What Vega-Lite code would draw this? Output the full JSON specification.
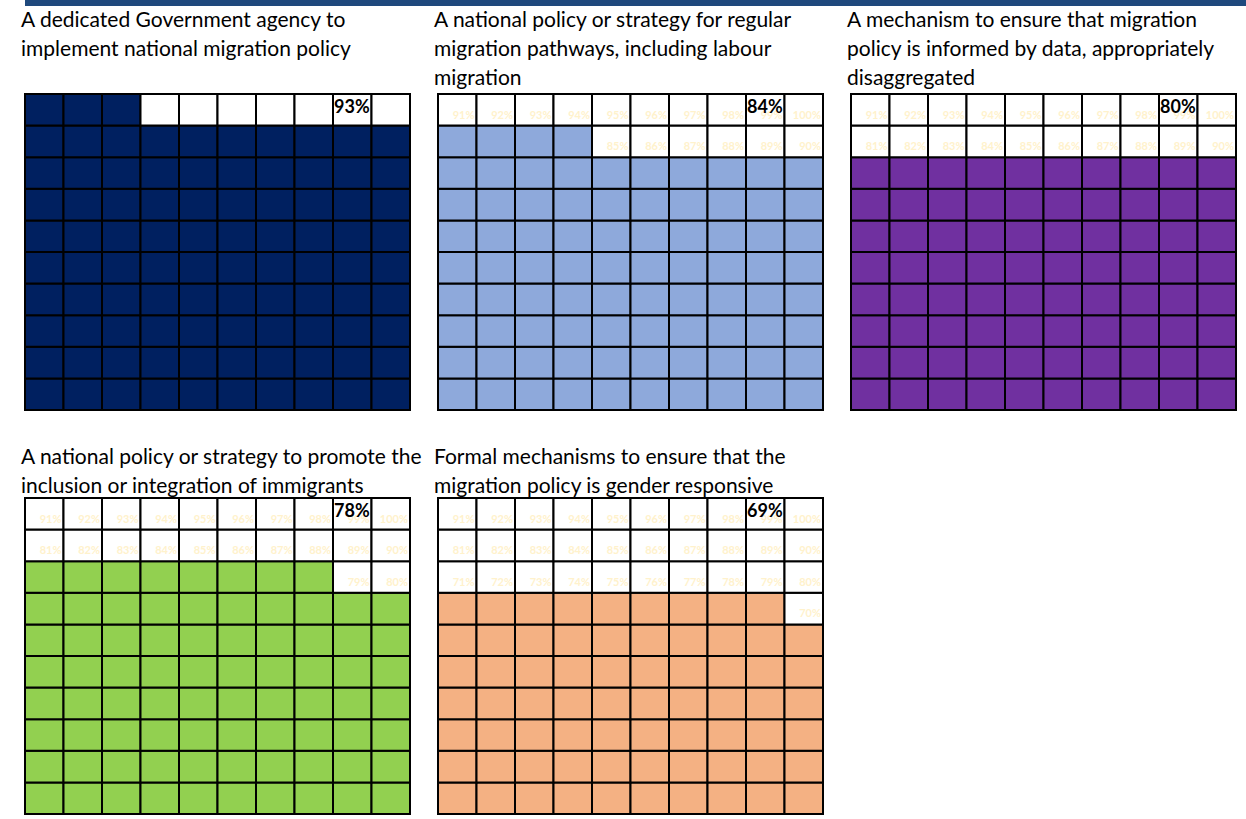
{
"$schema": "https://vega.github.io/schema/vega-lite/v6.json",
"padding": 0,
"background": "white",
"config": {"view": {"stroke": null}, "font": "Lato",
 "title": {"anchor": "start", "frame": "group", "fontSize": 21, "font": "Lato", "fontWeight": "normal", "color": "black", "lineHeight": 29, "offset": 4, "dx": -4, "baseline": "bottom"}},
"datasets": {
"big": [{"p":1,"r":10,"c":9,"t":"93%"},{"p":2,"r":10,"c":9,"t":"84%"},{"p":3,"r":10,"c":9,"t":"80%"},{"p":4,"r":10,"c":9,"t":"78%"},{"p":5,"r":10,"c":9,"t":"69%"}],
"cells": [
{"p":1,"r":1,"c":1,"f":1},{"p":1,"r":1,"c":2,"f":1},{"p":1,"r":1,"c":3,"f":1},{"p":1,"r":1,"c":4,"f":1},{"p":1,"r":1,"c":5,"f":1},{"p":1,"r":1,"c":6,"f":1},{"p":1,"r":1,"c":7,"f":1},{"p":1,"r":1,"c":8,"f":1},{"p":1,"r":1,"c":9,"f":1},{"p":1,"r":1,"c":10,"f":1},
{"p":1,"r":2,"c":1,"f":1},{"p":1,"r":2,"c":2,"f":1},{"p":1,"r":2,"c":3,"f":1},{"p":1,"r":2,"c":4,"f":1},{"p":1,"r":2,"c":5,"f":1},{"p":1,"r":2,"c":6,"f":1},{"p":1,"r":2,"c":7,"f":1},{"p":1,"r":2,"c":8,"f":1},{"p":1,"r":2,"c":9,"f":1},{"p":1,"r":2,"c":10,"f":1},
{"p":1,"r":3,"c":1,"f":1},{"p":1,"r":3,"c":2,"f":1},{"p":1,"r":3,"c":3,"f":1},{"p":1,"r":3,"c":4,"f":1},{"p":1,"r":3,"c":5,"f":1},{"p":1,"r":3,"c":6,"f":1},{"p":1,"r":3,"c":7,"f":1},{"p":1,"r":3,"c":8,"f":1},{"p":1,"r":3,"c":9,"f":1},{"p":1,"r":3,"c":10,"f":1},
{"p":1,"r":4,"c":1,"f":1},{"p":1,"r":4,"c":2,"f":1},{"p":1,"r":4,"c":3,"f":1},{"p":1,"r":4,"c":4,"f":1},{"p":1,"r":4,"c":5,"f":1},{"p":1,"r":4,"c":6,"f":1},{"p":1,"r":4,"c":7,"f":1},{"p":1,"r":4,"c":8,"f":1},{"p":1,"r":4,"c":9,"f":1},{"p":1,"r":4,"c":10,"f":1},
{"p":1,"r":5,"c":1,"f":1},{"p":1,"r":5,"c":2,"f":1},{"p":1,"r":5,"c":3,"f":1},{"p":1,"r":5,"c":4,"f":1},{"p":1,"r":5,"c":5,"f":1},{"p":1,"r":5,"c":6,"f":1},{"p":1,"r":5,"c":7,"f":1},{"p":1,"r":5,"c":8,"f":1},{"p":1,"r":5,"c":9,"f":1},{"p":1,"r":5,"c":10,"f":1},
{"p":1,"r":6,"c":1,"f":1},{"p":1,"r":6,"c":2,"f":1},{"p":1,"r":6,"c":3,"f":1},{"p":1,"r":6,"c":4,"f":1},{"p":1,"r":6,"c":5,"f":1},{"p":1,"r":6,"c":6,"f":1},{"p":1,"r":6,"c":7,"f":1},{"p":1,"r":6,"c":8,"f":1},{"p":1,"r":6,"c":9,"f":1},{"p":1,"r":6,"c":10,"f":1},
{"p":1,"r":7,"c":1,"f":1},{"p":1,"r":7,"c":2,"f":1},{"p":1,"r":7,"c":3,"f":1},{"p":1,"r":7,"c":4,"f":1},{"p":1,"r":7,"c":5,"f":1},{"p":1,"r":7,"c":6,"f":1},{"p":1,"r":7,"c":7,"f":1},{"p":1,"r":7,"c":8,"f":1},{"p":1,"r":7,"c":9,"f":1},{"p":1,"r":7,"c":10,"f":1},
{"p":1,"r":8,"c":1,"f":1},{"p":1,"r":8,"c":2,"f":1},{"p":1,"r":8,"c":3,"f":1},{"p":1,"r":8,"c":4,"f":1},{"p":1,"r":8,"c":5,"f":1},{"p":1,"r":8,"c":6,"f":1},{"p":1,"r":8,"c":7,"f":1},{"p":1,"r":8,"c":8,"f":1},{"p":1,"r":8,"c":9,"f":1},{"p":1,"r":8,"c":10,"f":1},
{"p":1,"r":9,"c":1,"f":1},{"p":1,"r":9,"c":2,"f":1},{"p":1,"r":9,"c":3,"f":1},{"p":1,"r":9,"c":4,"f":1},{"p":1,"r":9,"c":5,"f":1},{"p":1,"r":9,"c":6,"f":1},{"p":1,"r":9,"c":7,"f":1},{"p":1,"r":9,"c":8,"f":1},{"p":1,"r":9,"c":9,"f":1},{"p":1,"r":9,"c":10,"f":1},
{"p":1,"r":10,"c":1,"f":1},{"p":1,"r":10,"c":2,"f":1},{"p":1,"r":10,"c":3,"f":1},{"p":1,"r":10,"c":4,"f":0},{"p":1,"r":10,"c":5,"f":0},{"p":1,"r":10,"c":6,"f":0},{"p":1,"r":10,"c":7,"f":0},{"p":1,"r":10,"c":8,"f":0},{"p":1,"r":10,"c":9,"f":0},{"p":1,"r":10,"c":10,"f":0},
{"p":2,"r":1,"c":1,"f":1},{"p":2,"r":1,"c":2,"f":1},{"p":2,"r":1,"c":3,"f":1},{"p":2,"r":1,"c":4,"f":1},{"p":2,"r":1,"c":5,"f":1},{"p":2,"r":1,"c":6,"f":1},{"p":2,"r":1,"c":7,"f":1},{"p":2,"r":1,"c":8,"f":1},{"p":2,"r":1,"c":9,"f":1},{"p":2,"r":1,"c":10,"f":1},
{"p":2,"r":2,"c":1,"f":1},{"p":2,"r":2,"c":2,"f":1},{"p":2,"r":2,"c":3,"f":1},{"p":2,"r":2,"c":4,"f":1},{"p":2,"r":2,"c":5,"f":1},{"p":2,"r":2,"c":6,"f":1},{"p":2,"r":2,"c":7,"f":1},{"p":2,"r":2,"c":8,"f":1},{"p":2,"r":2,"c":9,"f":1},{"p":2,"r":2,"c":10,"f":1},
{"p":2,"r":3,"c":1,"f":1},{"p":2,"r":3,"c":2,"f":1},{"p":2,"r":3,"c":3,"f":1},{"p":2,"r":3,"c":4,"f":1},{"p":2,"r":3,"c":5,"f":1},{"p":2,"r":3,"c":6,"f":1},{"p":2,"r":3,"c":7,"f":1},{"p":2,"r":3,"c":8,"f":1},{"p":2,"r":3,"c":9,"f":1},{"p":2,"r":3,"c":10,"f":1},
{"p":2,"r":4,"c":1,"f":1},{"p":2,"r":4,"c":2,"f":1},{"p":2,"r":4,"c":3,"f":1},{"p":2,"r":4,"c":4,"f":1},{"p":2,"r":4,"c":5,"f":1},{"p":2,"r":4,"c":6,"f":1},{"p":2,"r":4,"c":7,"f":1},{"p":2,"r":4,"c":8,"f":1},{"p":2,"r":4,"c":9,"f":1},{"p":2,"r":4,"c":10,"f":1},
{"p":2,"r":5,"c":1,"f":1},{"p":2,"r":5,"c":2,"f":1},{"p":2,"r":5,"c":3,"f":1},{"p":2,"r":5,"c":4,"f":1},{"p":2,"r":5,"c":5,"f":1},{"p":2,"r":5,"c":6,"f":1},{"p":2,"r":5,"c":7,"f":1},{"p":2,"r":5,"c":8,"f":1},{"p":2,"r":5,"c":9,"f":1},{"p":2,"r":5,"c":10,"f":1},
{"p":2,"r":6,"c":1,"f":1},{"p":2,"r":6,"c":2,"f":1},{"p":2,"r":6,"c":3,"f":1},{"p":2,"r":6,"c":4,"f":1},{"p":2,"r":6,"c":5,"f":1},{"p":2,"r":6,"c":6,"f":1},{"p":2,"r":6,"c":7,"f":1},{"p":2,"r":6,"c":8,"f":1},{"p":2,"r":6,"c":9,"f":1},{"p":2,"r":6,"c":10,"f":1},
{"p":2,"r":7,"c":1,"f":1},{"p":2,"r":7,"c":2,"f":1},{"p":2,"r":7,"c":3,"f":1},{"p":2,"r":7,"c":4,"f":1},{"p":2,"r":7,"c":5,"f":1},{"p":2,"r":7,"c":6,"f":1},{"p":2,"r":7,"c":7,"f":1},{"p":2,"r":7,"c":8,"f":1},{"p":2,"r":7,"c":9,"f":1},{"p":2,"r":7,"c":10,"f":1},
{"p":2,"r":8,"c":1,"f":1},{"p":2,"r":8,"c":2,"f":1},{"p":2,"r":8,"c":3,"f":1},{"p":2,"r":8,"c":4,"f":1},{"p":2,"r":8,"c":5,"f":1},{"p":2,"r":8,"c":6,"f":1},{"p":2,"r":8,"c":7,"f":1},{"p":2,"r":8,"c":8,"f":1},{"p":2,"r":8,"c":9,"f":1},{"p":2,"r":8,"c":10,"f":1},
{"p":2,"r":9,"c":1,"f":1},{"p":2,"r":9,"c":2,"f":1},{"p":2,"r":9,"c":3,"f":1},{"p":2,"r":9,"c":4,"f":1},{"p":2,"r":9,"c":5,"f":0,"l":"85%"},{"p":2,"r":9,"c":6,"f":0,"l":"86%"},{"p":2,"r":9,"c":7,"f":0,"l":"87%"},{"p":2,"r":9,"c":8,"f":0,"l":"88%"},{"p":2,"r":9,"c":9,"f":0,"l":"89%"},{"p":2,"r":9,"c":10,"f":0,"l":"90%"},
{"p":2,"r":10,"c":1,"f":0,"l":"91%"},{"p":2,"r":10,"c":2,"f":0,"l":"92%"},{"p":2,"r":10,"c":3,"f":0,"l":"93%"},{"p":2,"r":10,"c":4,"f":0,"l":"94%"},{"p":2,"r":10,"c":5,"f":0,"l":"95%"},{"p":2,"r":10,"c":6,"f":0,"l":"96%"},{"p":2,"r":10,"c":7,"f":0,"l":"97%"},{"p":2,"r":10,"c":8,"f":0,"l":"98%"},{"p":2,"r":10,"c":9,"f":0,"l":"99%"},{"p":2,"r":10,"c":10,"f":0,"l":"100%"},
{"p":3,"r":1,"c":1,"f":1},{"p":3,"r":1,"c":2,"f":1},{"p":3,"r":1,"c":3,"f":1},{"p":3,"r":1,"c":4,"f":1},{"p":3,"r":1,"c":5,"f":1},{"p":3,"r":1,"c":6,"f":1},{"p":3,"r":1,"c":7,"f":1},{"p":3,"r":1,"c":8,"f":1},{"p":3,"r":1,"c":9,"f":1},{"p":3,"r":1,"c":10,"f":1},
{"p":3,"r":2,"c":1,"f":1},{"p":3,"r":2,"c":2,"f":1},{"p":3,"r":2,"c":3,"f":1},{"p":3,"r":2,"c":4,"f":1},{"p":3,"r":2,"c":5,"f":1},{"p":3,"r":2,"c":6,"f":1},{"p":3,"r":2,"c":7,"f":1},{"p":3,"r":2,"c":8,"f":1},{"p":3,"r":2,"c":9,"f":1},{"p":3,"r":2,"c":10,"f":1},
{"p":3,"r":3,"c":1,"f":1},{"p":3,"r":3,"c":2,"f":1},{"p":3,"r":3,"c":3,"f":1},{"p":3,"r":3,"c":4,"f":1},{"p":3,"r":3,"c":5,"f":1},{"p":3,"r":3,"c":6,"f":1},{"p":3,"r":3,"c":7,"f":1},{"p":3,"r":3,"c":8,"f":1},{"p":3,"r":3,"c":9,"f":1},{"p":3,"r":3,"c":10,"f":1},
{"p":3,"r":4,"c":1,"f":1},{"p":3,"r":4,"c":2,"f":1},{"p":3,"r":4,"c":3,"f":1},{"p":3,"r":4,"c":4,"f":1},{"p":3,"r":4,"c":5,"f":1},{"p":3,"r":4,"c":6,"f":1},{"p":3,"r":4,"c":7,"f":1},{"p":3,"r":4,"c":8,"f":1},{"p":3,"r":4,"c":9,"f":1},{"p":3,"r":4,"c":10,"f":1},
{"p":3,"r":5,"c":1,"f":1},{"p":3,"r":5,"c":2,"f":1},{"p":3,"r":5,"c":3,"f":1},{"p":3,"r":5,"c":4,"f":1},{"p":3,"r":5,"c":5,"f":1},{"p":3,"r":5,"c":6,"f":1},{"p":3,"r":5,"c":7,"f":1},{"p":3,"r":5,"c":8,"f":1},{"p":3,"r":5,"c":9,"f":1},{"p":3,"r":5,"c":10,"f":1},
{"p":3,"r":6,"c":1,"f":1},{"p":3,"r":6,"c":2,"f":1},{"p":3,"r":6,"c":3,"f":1},{"p":3,"r":6,"c":4,"f":1},{"p":3,"r":6,"c":5,"f":1},{"p":3,"r":6,"c":6,"f":1},{"p":3,"r":6,"c":7,"f":1},{"p":3,"r":6,"c":8,"f":1},{"p":3,"r":6,"c":9,"f":1},{"p":3,"r":6,"c":10,"f":1},
{"p":3,"r":7,"c":1,"f":1},{"p":3,"r":7,"c":2,"f":1},{"p":3,"r":7,"c":3,"f":1},{"p":3,"r":7,"c":4,"f":1},{"p":3,"r":7,"c":5,"f":1},{"p":3,"r":7,"c":6,"f":1},{"p":3,"r":7,"c":7,"f":1},{"p":3,"r":7,"c":8,"f":1},{"p":3,"r":7,"c":9,"f":1},{"p":3,"r":7,"c":10,"f":1},
{"p":3,"r":8,"c":1,"f":1},{"p":3,"r":8,"c":2,"f":1},{"p":3,"r":8,"c":3,"f":1},{"p":3,"r":8,"c":4,"f":1},{"p":3,"r":8,"c":5,"f":1},{"p":3,"r":8,"c":6,"f":1},{"p":3,"r":8,"c":7,"f":1},{"p":3,"r":8,"c":8,"f":1},{"p":3,"r":8,"c":9,"f":1},{"p":3,"r":8,"c":10,"f":1},
{"p":3,"r":9,"c":1,"f":0,"l":"81%"},{"p":3,"r":9,"c":2,"f":0,"l":"82%"},{"p":3,"r":9,"c":3,"f":0,"l":"83%"},{"p":3,"r":9,"c":4,"f":0,"l":"84%"},{"p":3,"r":9,"c":5,"f":0,"l":"85%"},{"p":3,"r":9,"c":6,"f":0,"l":"86%"},{"p":3,"r":9,"c":7,"f":0,"l":"87%"},{"p":3,"r":9,"c":8,"f":0,"l":"88%"},{"p":3,"r":9,"c":9,"f":0,"l":"89%"},{"p":3,"r":9,"c":10,"f":0,"l":"90%"},
{"p":3,"r":10,"c":1,"f":0,"l":"91%"},{"p":3,"r":10,"c":2,"f":0,"l":"92%"},{"p":3,"r":10,"c":3,"f":0,"l":"93%"},{"p":3,"r":10,"c":4,"f":0,"l":"94%"},{"p":3,"r":10,"c":5,"f":0,"l":"95%"},{"p":3,"r":10,"c":6,"f":0,"l":"96%"},{"p":3,"r":10,"c":7,"f":0,"l":"97%"},{"p":3,"r":10,"c":8,"f":0,"l":"98%"},{"p":3,"r":10,"c":9,"f":0,"l":"99%"},{"p":3,"r":10,"c":10,"f":0,"l":"100%"},
{"p":4,"r":1,"c":1,"f":1},{"p":4,"r":1,"c":2,"f":1},{"p":4,"r":1,"c":3,"f":1},{"p":4,"r":1,"c":4,"f":1},{"p":4,"r":1,"c":5,"f":1},{"p":4,"r":1,"c":6,"f":1},{"p":4,"r":1,"c":7,"f":1},{"p":4,"r":1,"c":8,"f":1},{"p":4,"r":1,"c":9,"f":1},{"p":4,"r":1,"c":10,"f":1},
{"p":4,"r":2,"c":1,"f":1},{"p":4,"r":2,"c":2,"f":1},{"p":4,"r":2,"c":3,"f":1},{"p":4,"r":2,"c":4,"f":1},{"p":4,"r":2,"c":5,"f":1},{"p":4,"r":2,"c":6,"f":1},{"p":4,"r":2,"c":7,"f":1},{"p":4,"r":2,"c":8,"f":1},{"p":4,"r":2,"c":9,"f":1},{"p":4,"r":2,"c":10,"f":1},
{"p":4,"r":3,"c":1,"f":1},{"p":4,"r":3,"c":2,"f":1},{"p":4,"r":3,"c":3,"f":1},{"p":4,"r":3,"c":4,"f":1},{"p":4,"r":3,"c":5,"f":1},{"p":4,"r":3,"c":6,"f":1},{"p":4,"r":3,"c":7,"f":1},{"p":4,"r":3,"c":8,"f":1},{"p":4,"r":3,"c":9,"f":1},{"p":4,"r":3,"c":10,"f":1},
{"p":4,"r":4,"c":1,"f":1},{"p":4,"r":4,"c":2,"f":1},{"p":4,"r":4,"c":3,"f":1},{"p":4,"r":4,"c":4,"f":1},{"p":4,"r":4,"c":5,"f":1},{"p":4,"r":4,"c":6,"f":1},{"p":4,"r":4,"c":7,"f":1},{"p":4,"r":4,"c":8,"f":1},{"p":4,"r":4,"c":9,"f":1},{"p":4,"r":4,"c":10,"f":1},
{"p":4,"r":5,"c":1,"f":1},{"p":4,"r":5,"c":2,"f":1},{"p":4,"r":5,"c":3,"f":1},{"p":4,"r":5,"c":4,"f":1},{"p":4,"r":5,"c":5,"f":1},{"p":4,"r":5,"c":6,"f":1},{"p":4,"r":5,"c":7,"f":1},{"p":4,"r":5,"c":8,"f":1},{"p":4,"r":5,"c":9,"f":1},{"p":4,"r":5,"c":10,"f":1},
{"p":4,"r":6,"c":1,"f":1},{"p":4,"r":6,"c":2,"f":1},{"p":4,"r":6,"c":3,"f":1},{"p":4,"r":6,"c":4,"f":1},{"p":4,"r":6,"c":5,"f":1},{"p":4,"r":6,"c":6,"f":1},{"p":4,"r":6,"c":7,"f":1},{"p":4,"r":6,"c":8,"f":1},{"p":4,"r":6,"c":9,"f":1},{"p":4,"r":6,"c":10,"f":1},
{"p":4,"r":7,"c":1,"f":1},{"p":4,"r":7,"c":2,"f":1},{"p":4,"r":7,"c":3,"f":1},{"p":4,"r":7,"c":4,"f":1},{"p":4,"r":7,"c":5,"f":1},{"p":4,"r":7,"c":6,"f":1},{"p":4,"r":7,"c":7,"f":1},{"p":4,"r":7,"c":8,"f":1},{"p":4,"r":7,"c":9,"f":1},{"p":4,"r":7,"c":10,"f":1},
{"p":4,"r":8,"c":1,"f":1},{"p":4,"r":8,"c":2,"f":1},{"p":4,"r":8,"c":3,"f":1},{"p":4,"r":8,"c":4,"f":1},{"p":4,"r":8,"c":5,"f":1},{"p":4,"r":8,"c":6,"f":1},{"p":4,"r":8,"c":7,"f":1},{"p":4,"r":8,"c":8,"f":1},{"p":4,"r":8,"c":9,"f":0,"l":"79%"},{"p":4,"r":8,"c":10,"f":0,"l":"80%"},
{"p":4,"r":9,"c":1,"f":0,"l":"81%"},{"p":4,"r":9,"c":2,"f":0,"l":"82%"},{"p":4,"r":9,"c":3,"f":0,"l":"83%"},{"p":4,"r":9,"c":4,"f":0,"l":"84%"},{"p":4,"r":9,"c":5,"f":0,"l":"85%"},{"p":4,"r":9,"c":6,"f":0,"l":"86%"},{"p":4,"r":9,"c":7,"f":0,"l":"87%"},{"p":4,"r":9,"c":8,"f":0,"l":"88%"},{"p":4,"r":9,"c":9,"f":0,"l":"89%"},{"p":4,"r":9,"c":10,"f":0,"l":"90%"},
{"p":4,"r":10,"c":1,"f":0,"l":"91%"},{"p":4,"r":10,"c":2,"f":0,"l":"92%"},{"p":4,"r":10,"c":3,"f":0,"l":"93%"},{"p":4,"r":10,"c":4,"f":0,"l":"94%"},{"p":4,"r":10,"c":5,"f":0,"l":"95%"},{"p":4,"r":10,"c":6,"f":0,"l":"96%"},{"p":4,"r":10,"c":7,"f":0,"l":"97%"},{"p":4,"r":10,"c":8,"f":0,"l":"98%"},{"p":4,"r":10,"c":9,"f":0,"l":"99%"},{"p":4,"r":10,"c":10,"f":0,"l":"100%"},
{"p":5,"r":1,"c":1,"f":1},{"p":5,"r":1,"c":2,"f":1},{"p":5,"r":1,"c":3,"f":1},{"p":5,"r":1,"c":4,"f":1},{"p":5,"r":1,"c":5,"f":1},{"p":5,"r":1,"c":6,"f":1},{"p":5,"r":1,"c":7,"f":1},{"p":5,"r":1,"c":8,"f":1},{"p":5,"r":1,"c":9,"f":1},{"p":5,"r":1,"c":10,"f":1},
{"p":5,"r":2,"c":1,"f":1},{"p":5,"r":2,"c":2,"f":1},{"p":5,"r":2,"c":3,"f":1},{"p":5,"r":2,"c":4,"f":1},{"p":5,"r":2,"c":5,"f":1},{"p":5,"r":2,"c":6,"f":1},{"p":5,"r":2,"c":7,"f":1},{"p":5,"r":2,"c":8,"f":1},{"p":5,"r":2,"c":9,"f":1},{"p":5,"r":2,"c":10,"f":1},
{"p":5,"r":3,"c":1,"f":1},{"p":5,"r":3,"c":2,"f":1},{"p":5,"r":3,"c":3,"f":1},{"p":5,"r":3,"c":4,"f":1},{"p":5,"r":3,"c":5,"f":1},{"p":5,"r":3,"c":6,"f":1},{"p":5,"r":3,"c":7,"f":1},{"p":5,"r":3,"c":8,"f":1},{"p":5,"r":3,"c":9,"f":1},{"p":5,"r":3,"c":10,"f":1},
{"p":5,"r":4,"c":1,"f":1},{"p":5,"r":4,"c":2,"f":1},{"p":5,"r":4,"c":3,"f":1},{"p":5,"r":4,"c":4,"f":1},{"p":5,"r":4,"c":5,"f":1},{"p":5,"r":4,"c":6,"f":1},{"p":5,"r":4,"c":7,"f":1},{"p":5,"r":4,"c":8,"f":1},{"p":5,"r":4,"c":9,"f":1},{"p":5,"r":4,"c":10,"f":1},
{"p":5,"r":5,"c":1,"f":1},{"p":5,"r":5,"c":2,"f":1},{"p":5,"r":5,"c":3,"f":1},{"p":5,"r":5,"c":4,"f":1},{"p":5,"r":5,"c":5,"f":1},{"p":5,"r":5,"c":6,"f":1},{"p":5,"r":5,"c":7,"f":1},{"p":5,"r":5,"c":8,"f":1},{"p":5,"r":5,"c":9,"f":1},{"p":5,"r":5,"c":10,"f":1},
{"p":5,"r":6,"c":1,"f":1},{"p":5,"r":6,"c":2,"f":1},{"p":5,"r":6,"c":3,"f":1},{"p":5,"r":6,"c":4,"f":1},{"p":5,"r":6,"c":5,"f":1},{"p":5,"r":6,"c":6,"f":1},{"p":5,"r":6,"c":7,"f":1},{"p":5,"r":6,"c":8,"f":1},{"p":5,"r":6,"c":9,"f":1},{"p":5,"r":6,"c":10,"f":1},
{"p":5,"r":7,"c":1,"f":1},{"p":5,"r":7,"c":2,"f":1},{"p":5,"r":7,"c":3,"f":1},{"p":5,"r":7,"c":4,"f":1},{"p":5,"r":7,"c":5,"f":1},{"p":5,"r":7,"c":6,"f":1},{"p":5,"r":7,"c":7,"f":1},{"p":5,"r":7,"c":8,"f":1},{"p":5,"r":7,"c":9,"f":1},{"p":5,"r":7,"c":10,"f":0,"l":"70%"},
{"p":5,"r":8,"c":1,"f":0,"l":"71%"},{"p":5,"r":8,"c":2,"f":0,"l":"72%"},{"p":5,"r":8,"c":3,"f":0,"l":"73%"},{"p":5,"r":8,"c":4,"f":0,"l":"74%"},{"p":5,"r":8,"c":5,"f":0,"l":"75%"},{"p":5,"r":8,"c":6,"f":0,"l":"76%"},{"p":5,"r":8,"c":7,"f":0,"l":"77%"},{"p":5,"r":8,"c":8,"f":0,"l":"78%"},{"p":5,"r":8,"c":9,"f":0,"l":"79%"},{"p":5,"r":8,"c":10,"f":0,"l":"80%"},
{"p":5,"r":9,"c":1,"f":0,"l":"81%"},{"p":5,"r":9,"c":2,"f":0,"l":"82%"},{"p":5,"r":9,"c":3,"f":0,"l":"83%"},{"p":5,"r":9,"c":4,"f":0,"l":"84%"},{"p":5,"r":9,"c":5,"f":0,"l":"85%"},{"p":5,"r":9,"c":6,"f":0,"l":"86%"},{"p":5,"r":9,"c":7,"f":0,"l":"87%"},{"p":5,"r":9,"c":8,"f":0,"l":"88%"},{"p":5,"r":9,"c":9,"f":0,"l":"89%"},{"p":5,"r":9,"c":10,"f":0,"l":"90%"},
{"p":5,"r":10,"c":1,"f":0,"l":"91%"},{"p":5,"r":10,"c":2,"f":0,"l":"92%"},{"p":5,"r":10,"c":3,"f":0,"l":"93%"},{"p":5,"r":10,"c":4,"f":0,"l":"94%"},{"p":5,"r":10,"c":5,"f":0,"l":"95%"},{"p":5,"r":10,"c":6,"f":0,"l":"96%"},{"p":5,"r":10,"c":7,"f":0,"l":"97%"},{"p":5,"r":10,"c":8,"f":0,"l":"98%"},{"p":5,"r":10,"c":9,"f":0,"l":"99%"},{"p":5,"r":10,"c":10,"f":0,"l":"100%"}
]},
"spacing": 4,
"vconcat": [
 {"width": 1246, "height": 6, "view": {"fill": "#1F497D", "stroke": null}, "data": {"values": [{"a": 1}]}, "mark": {"type": "text", "fontSize": 1, "baseline": "top", "align": "left"}, "encoding": {"text": {"value": ""}}},
 {"columns": 3, "bounds": "flush", "spacing": {"row": 88, "column": 28},
  "resolve": {"scale": {"fill": "independent", "x": "independent", "y": "independent"}},
  "concat": [
   {"title": {"text": ["A dedicated Government agency to", "implement national migration policy", " "]}, "width": 385, "height": 316,
    "layer": [
     {"data": {"name": "cells"}, "transform": [{"filter": "datum.p == 1"}], "mark": {"type": "rect", "stroke": "black", "strokeWidth": 2},
      "encoding": {"x": {"field": "c", "type": "ordinal", "axis": null, "scale": {"paddingInner": 0, "paddingOuter": 0}},
       "y": {"field": "r", "type": "ordinal", "sort": "descending", "scale": {"paddingInner": 0, "paddingOuter": 0}, "axis": {"title": " ", "titleFontSize": 10, "titlePadding": 15, "labels": false, "ticks": false, "domain": false, "grid": false}},
       "fill": {"field": "f", "type": "nominal", "scale": {"domain": [1, 0], "range": ["#002060", "#ffffff"]}, "legend": null}}},
     {"data": {"name": "big"}, "transform": [{"filter": "datum.p == 1"}], "mark": {"type": "text", "align": "left", "baseline": "alphabetic", "dx": 1, "dy": 19, "fontSize": 18, "fontWeight": "bold", "color": "black"},
      "encoding": {"x": {"field": "c", "type": "ordinal", "bandPosition": 0, "axis": null}, "y": {"field": "r", "type": "ordinal", "sort": "descending", "bandPosition": 0}, "text": {"field": "t"}}}
    ]},
   {"title": {"text": ["A national policy or strategy for regular", "migration pathways, including labour", "migration"]}, "width": 385, "height": 316,
    "layer": [
     {"data": {"name": "cells"}, "transform": [{"filter": "datum.p == 2"}], "mark": {"type": "rect", "stroke": "black", "strokeWidth": 2},
      "encoding": {"x": {"field": "c", "type": "ordinal", "axis": null, "scale": {"paddingInner": 0, "paddingOuter": 0}},
       "y": {"field": "r", "type": "ordinal", "sort": "descending", "scale": {"paddingInner": 0, "paddingOuter": 0}, "axis": null},
       "fill": {"field": "f", "type": "nominal", "scale": {"domain": [1, 0], "range": ["#8EA9DB", "#ffffff"]}, "legend": null}}},
     {"data": {"name": "cells"}, "transform": [{"filter": "datum.p == 2 && isValid(datum.l)"}], "mark": {"type": "text", "align": "right", "baseline": "alphabetic", "dx": -2, "dy": -7, "fontSize": 11, "fontWeight": "bold", "color": "#FFF2CC"},
      "encoding": {"x": {"field": "c", "type": "ordinal", "bandPosition": 1, "axis": null}, "y": {"field": "r", "type": "ordinal", "sort": "descending", "bandPosition": 1, "axis": null}, "text": {"field": "l"}}},
     {"data": {"name": "big"}, "transform": [{"filter": "datum.p == 2"}], "mark": {"type": "text", "align": "left", "baseline": "alphabetic", "dx": 1, "dy": 19, "fontSize": 18, "fontWeight": "bold", "color": "black"},
      "encoding": {"x": {"field": "c", "type": "ordinal", "bandPosition": 0, "axis": null}, "y": {"field": "r", "type": "ordinal", "sort": "descending", "bandPosition": 0, "axis": null}, "text": {"field": "t"}}}
    ]},
   {"title": {"text": ["A mechanism to ensure that migration", "policy is informed by data, appropriately", "disaggregated"]}, "width": 385, "height": 316,
    "layer": [
     {"data": {"name": "cells"}, "transform": [{"filter": "datum.p == 3"}], "mark": {"type": "rect", "stroke": "black", "strokeWidth": 2},
      "encoding": {"x": {"field": "c", "type": "ordinal", "axis": null, "scale": {"paddingInner": 0, "paddingOuter": 0}},
       "y": {"field": "r", "type": "ordinal", "sort": "descending", "scale": {"paddingInner": 0, "paddingOuter": 0}, "axis": null},
       "fill": {"field": "f", "type": "nominal", "scale": {"domain": [1, 0], "range": ["#7030A0", "#ffffff"]}, "legend": null}}},
     {"data": {"name": "cells"}, "transform": [{"filter": "datum.p == 3 && isValid(datum.l)"}], "mark": {"type": "text", "align": "right", "baseline": "alphabetic", "dx": -2, "dy": -7, "fontSize": 11, "fontWeight": "bold", "color": "#FFF2CC"},
      "encoding": {"x": {"field": "c", "type": "ordinal", "bandPosition": 1, "axis": null}, "y": {"field": "r", "type": "ordinal", "sort": "descending", "bandPosition": 1, "axis": null}, "text": {"field": "l"}}},
     {"data": {"name": "big"}, "transform": [{"filter": "datum.p == 3"}], "mark": {"type": "text", "align": "left", "baseline": "alphabetic", "dx": 1, "dy": 19, "fontSize": 18, "fontWeight": "bold", "color": "black"},
      "encoding": {"x": {"field": "c", "type": "ordinal", "bandPosition": 0, "axis": null}, "y": {"field": "r", "type": "ordinal", "sort": "descending", "bandPosition": 0, "axis": null}, "text": {"field": "t"}}}
    ]},
   {"title": {"text": ["A national policy or strategy to promote the", "inclusion or integration of immigrants"], "offset": 0.1}, "width": 385, "height": 316,
    "layer": [
     {"data": {"name": "cells"}, "transform": [{"filter": "datum.p == 4"}], "mark": {"type": "rect", "stroke": "black", "strokeWidth": 2},
      "encoding": {"x": {"field": "c", "type": "ordinal", "axis": null, "scale": {"paddingInner": 0, "paddingOuter": 0}},
       "y": {"field": "r", "type": "ordinal", "sort": "descending", "scale": {"paddingInner": 0, "paddingOuter": 0}, "axis": {"title": " ", "titleFontSize": 10, "titlePadding": 15, "labels": false, "ticks": false, "domain": false, "grid": false}},
       "fill": {"field": "f", "type": "nominal", "scale": {"domain": [1, 0], "range": ["#92D050", "#ffffff"]}, "legend": null}}},
     {"data": {"name": "cells"}, "transform": [{"filter": "datum.p == 4 && isValid(datum.l)"}], "mark": {"type": "text", "align": "right", "baseline": "alphabetic", "dx": -2, "dy": -7, "fontSize": 11, "fontWeight": "bold", "color": "#FFF2CC"},
      "encoding": {"x": {"field": "c", "type": "ordinal", "bandPosition": 1, "axis": null}, "y": {"field": "r", "type": "ordinal", "sort": "descending", "bandPosition": 1}, "text": {"field": "l"}}},
     {"data": {"name": "big"}, "transform": [{"filter": "datum.p == 4"}], "mark": {"type": "text", "align": "left", "baseline": "alphabetic", "dx": 1, "dy": 19, "fontSize": 18, "fontWeight": "bold", "color": "black"},
      "encoding": {"x": {"field": "c", "type": "ordinal", "bandPosition": 0, "axis": null}, "y": {"field": "r", "type": "ordinal", "sort": "descending", "bandPosition": 0}, "text": {"field": "t"}}}
    ]},
   {"title": {"text": ["Formal mechanisms to ensure that the", "migration policy is gender responsive"], "offset": 0.1}, "width": 385, "height": 316,
    "layer": [
     {"data": {"name": "cells"}, "transform": [{"filter": "datum.p == 5"}], "mark": {"type": "rect", "stroke": "black", "strokeWidth": 2},
      "encoding": {"x": {"field": "c", "type": "ordinal", "axis": null, "scale": {"paddingInner": 0, "paddingOuter": 0}},
       "y": {"field": "r", "type": "ordinal", "sort": "descending", "scale": {"paddingInner": 0, "paddingOuter": 0}, "axis": null},
       "fill": {"field": "f", "type": "nominal", "scale": {"domain": [1, 0], "range": ["#F4B183", "#ffffff"]}, "legend": null}}},
     {"data": {"name": "cells"}, "transform": [{"filter": "datum.p == 5 && isValid(datum.l)"}], "mark": {"type": "text", "align": "right", "baseline": "alphabetic", "dx": -2, "dy": -7, "fontSize": 11, "fontWeight": "bold", "color": "#FFF2CC"},
      "encoding": {"x": {"field": "c", "type": "ordinal", "bandPosition": 1, "axis": null}, "y": {"field": "r", "type": "ordinal", "sort": "descending", "bandPosition": 1, "axis": null}, "text": {"field": "l"}}},
     {"data": {"name": "big"}, "transform": [{"filter": "datum.p == 5"}], "mark": {"type": "text", "align": "left", "baseline": "alphabetic", "dx": 1, "dy": 19, "fontSize": 18, "fontWeight": "bold", "color": "black"},
      "encoding": {"x": {"field": "c", "type": "ordinal", "bandPosition": 0, "axis": null}, "y": {"field": "r", "type": "ordinal", "sort": "descending", "bandPosition": 0, "axis": null}, "text": {"field": "t"}}}
    ]}
  ]}
]
}
